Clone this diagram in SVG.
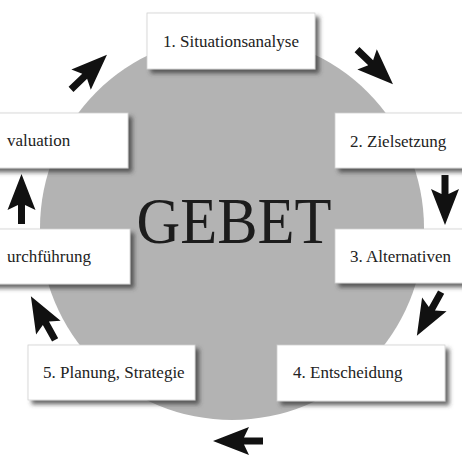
<svg xmlns="http://www.w3.org/2000/svg" width="462" height="456" viewBox="0 0 462 456">
  <defs>
    <filter id="sh" x="-10%" y="-20%" width="130%" height="150%">
      <feDropShadow dx="4" dy="4" stdDeviation="2" flood-color="#3a3a3a" flood-opacity="0.75"/>
    </filter>
    <path id="arr" d="M25,0 L-11,-14 L-6,-3.5 L-25,-3.5 L-25,3.5 L-6,3.5 L-11,14 Z"/>
  </defs>
  <style>
    .box { fill: #ffffff; stroke: #d0d0d0; stroke-width: 0.8; filter: url(#sh); }
    .lbl { font-size: 17px; fill: #222222; }
    .title { font-size: 66px; fill: #1c1c1c; }
    .a { fill: #111111; }
  </style>
  <rect width="462" height="456" fill="#ffffff"/>
  <circle id="circle" cx="232" cy="228" r="192" fill="#b3b3b3"/>
  <text class="title" font-family="'Liberation Serif', 'Times New Roman', serif" x="234" y="243" text-anchor="middle" textLength="195" lengthAdjust="spacingAndGlyphs">GEBET</text>

  <g id="connectors">
    <use href="#arr" class="a" transform="translate(89,72) rotate(-44)"/>
    <use href="#arr" class="a" transform="translate(375,67) rotate(44)"/>
    <use href="#arr" class="a" transform="translate(445,200) rotate(90)"/>
    <use href="#arr" class="a" transform="translate(429,314) rotate(119)"/>
    <use href="#arr" class="a" transform="translate(238,441) rotate(180)"/>
    <use href="#arr" class="a" transform="translate(43,318) rotate(-119)"/>
    <use href="#arr" class="a" transform="translate(21.5,199) rotate(-90)"/>
  </g>

  <g id="n1">
    <rect class="box" x="147" y="13" width="168" height="56"/>
    <text class="lbl" font-family="'Liberation Serif', 'Times New Roman', serif" x="163" y="47">1. Situationsanalyse</text>
  </g>
  <g id="n2">
    <rect class="box" x="335" y="113" width="168" height="55"/>
    <text class="lbl" font-family="'Liberation Serif', 'Times New Roman', serif" x="350" y="147">2. Zielsetzung</text>
  </g>
  <g id="n3">
    <rect class="box" x="335" y="229" width="168" height="54"/>
    <text class="lbl" font-family="'Liberation Serif', 'Times New Roman', serif" x="350" y="262">3. Alternativen</text>
  </g>
  <g id="n4">
    <rect class="box" x="277" y="345" width="168" height="56"/>
    <text class="lbl" font-family="'Liberation Serif', 'Times New Roman', serif" x="293" y="378">4. Entscheidung</text>
  </g>
  <g id="n5">
    <rect class="box" x="28" y="345" width="167" height="55"/>
    <text class="lbl" font-family="'Liberation Serif', 'Times New Roman', serif" x="43" y="378">5. Planung, Strategie</text>
  </g>
  <g id="n6">
    <rect class="box" x="-40" y="229" width="170" height="55"/>
    <text class="lbl" font-family="'Liberation Serif', 'Times New Roman', serif" x="7" y="262">urchführung</text>
  </g>
  <g id="n7">
    <rect class="box" x="-40" y="113" width="168" height="55"/>
    <text class="lbl" font-family="'Liberation Serif', 'Times New Roman', serif" x="7" y="146">valuation</text>
  </g>
</svg>
